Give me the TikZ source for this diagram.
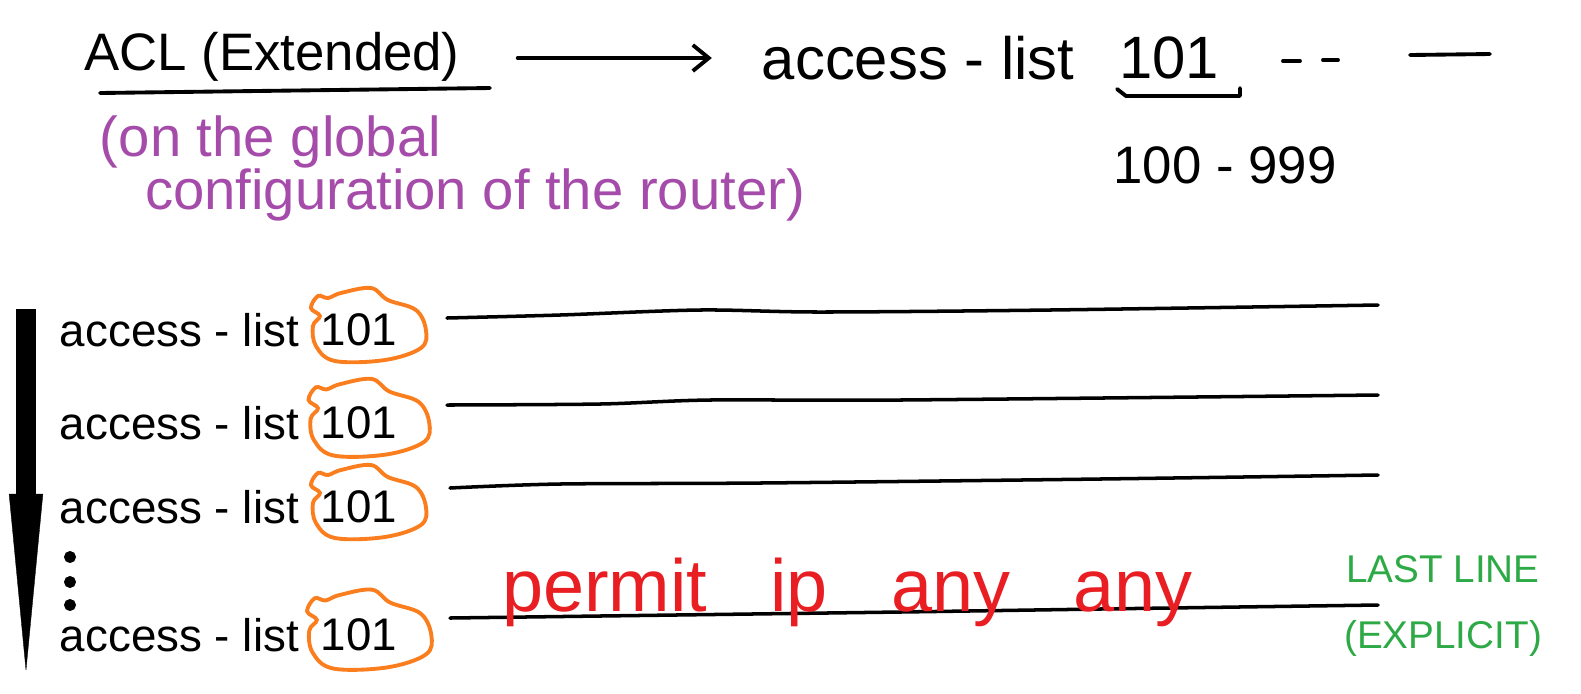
\documentclass[tikz,border=0pt]{standalone}
\usepackage{fontspec}
\setmainfont{Liberation Sans}
\usepackage{xcolor}
\usetikzlibrary{arrows.meta,positioning}
\definecolor{aclorange}{RGB}{250,125,30}
\definecolor{aclpurple}{RGB}{165,75,170}
\definecolor{aclred}{RGB}{232,30,35}
\definecolor{aclgreen}{RGB}{45,170,70}
\tikzset{
  txt/.style={inner sep=0pt, outer sep=0pt},
  pen/.style={line width=1.1pt, line cap=round, line join=round},
  blank/.style={line width=1pt, line cap=round},
  blob/.style={aclorange, line width=1.1pt},
}
\newcommand{\rowfont}{\fontsize{13}{15}\selectfont}
\newcommand{\aclblob}[2]{\draw[blob,shift={(#1.center)},scale=#2] plot[smooth cycle,tension=0.6] coordinates {(-48,-22) (-41,-34) (-31,-32) (-18,-37) (12,-42) (29,-30) (57,-20) (67,0) (62,18) (26,30) (-24,31) (-43,16) (-46,-4) (-39,-14)};}

\begin{document}
\begin{tikzpicture}[x=0.01cm,y=-0.01cm]
    \useasboundingbox (0,0) rectangle (1581,693);
    \node[txt,font=\fontsize{15}{18}\selectfont] (acl) at (272,57) {ACL (Extended)};
    \draw[pen] (100,93) -- (490,88);
    \node[txt,font=\fontsize{17}{20}\selectfont] (acctop) at (918,58) {access - list};
    \node[txt,font=\fontsize{17}{20}\selectfont,right=0.45cm of acctop] (numtop) {101};
    \draw[pen,-{Straight Barb[length=0.16cm,width=0.26cm]},shorten <=0.58cm,shorten >=0.5cm] (acl.east |- acctop) -- (acctop.west);
    \draw[pen] (1117,89) -- (1126,96) -- (1240,96) -- (1240,88);
    \draw[pen] (1283,61) -- (1300,61);
    \draw[pen] (1323,60) -- (1338,60);
    \draw[pen] (1410,55) -- (1490,54);
    \node[txt,font=\fontsize{15}{18}\selectfont] (range) at (1225,165) {100 - 999};
    \node[txt,aclpurple,font=\fontsize{16}{15}\selectfont,align=left,anchor=north west] (where) at (100,116) {(on the global\\\hspace*{0.45cm}configuration of the router)};
    % order of the entries
    \coordinate (flowtop) at (26,309);
    \coordinate (flowend) at (26,672);
    \draw[line width=0.19cm,-{Triangle[length=1.78cm,width=0.34cm,line width=0.1pt]}] (flowtop) -- (flowend);
    \foreach \n/\y/\s in {1/330/1,2/423/1.05,3/507/1,4/635/1.08}{
        \node[txt,font=\rowfont,anchor=west] (acc\n) at (60,\y) {access - list};
        \node[txt,font=\rowfont,right=0.22cm of acc\n] (num\n) {101};
        \aclblob{num\n}{\s}
    }
    \foreach \y in {557,582,605} \filldraw[black] (70,\y) circle (1.5pt);
    \draw[blank] plot[smooth,tension=0.5] coordinates {(447,318) (560,315) (700,310) (820,312) (1050,310) (1378,305)};
    \draw[blank] plot[smooth,tension=0.5] coordinates {(447,405) (600,404) (710,400) (900,400) (1378,395)};
    \draw[blank] plot[smooth,tension=0.5] coordinates {(450,488) (560,484) (760,483) (1100,479) (1378,475)};
    \draw[blank] plot[smooth,tension=0.5] coordinates {(450,618) (600,616) (900,612) (1100,609) (1378,605)};
    \node[txt,aclred,font=\fontsize{21}{26}\selectfont,anchor=west] (rule) at (502,592) {\spaceskip=18pt permit ip any any};
    \node[txt,aclgreen,font=\fontsize{11}{19}\selectfont,align=center] (last) at (1443,606) {LAST LINE\\(EXPLICIT)};
\end{tikzpicture}
\end{document}
